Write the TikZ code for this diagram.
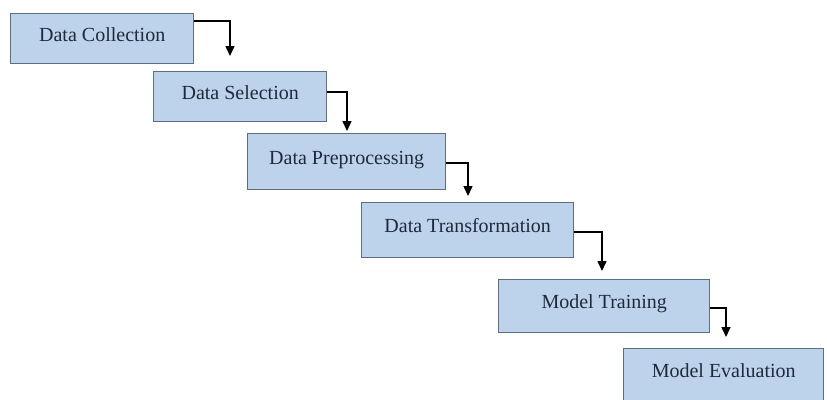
\documentclass[tikz,border=0pt]{standalone}
\usepackage{fontspec}
\setmainfont{Liberation Serif}
\usetikzlibrary{arrows.meta}
\definecolor{boxfill}{HTML}{BDD3EC}
\definecolor{boxline}{HTML}{5B6E84}
\definecolor{txt}{HTML}{1E2A3A}
\tikzset{
  stagebox/.style={draw=boxline, line width=1.4pt, fill=boxfill, anchor=north west,
    inner sep=0pt, text height=14pt, text depth=9pt, font=\fontsize{20}{24}\selectfont, text=txt},
  flowarrow/.style={draw=black, line width=1.5pt, -{Triangle[width=9pt,length=10pt]}}
}
\begin{document}
\begin{tikzpicture}[x=1pt,y=-1pt]
\useasboundingbox (0,0) rectangle (827,399);
\node[stagebox, minimum width=183pt, minimum height=50pt] (b1) at (10,13) {Data Collection};
\node[stagebox, minimum width=173pt, minimum height=50pt] (b2) at (153,71) {Data Selection};
\node[stagebox, minimum width=198pt, minimum height=56pt] (b3) at (247,133) {Data Preprocessing};
\node[stagebox, minimum width=212pt, minimum height=55pt] (b4) at (361,202) {Data Transformation};
\node[stagebox, minimum width=211pt, minimum height=53pt] (b5) at (498,279) {Model Training};
\node[stagebox, minimum width=200pt, minimum height=53pt] (b6) at (623,348) {Model Evaluation};
\coordinate (e1) at (230,56);
\coordinate (e2) at (347,131);
\coordinate (e3) at (468,196);
\coordinate (e4) at (602,271);
\coordinate (e5) at (726,337);
\draw[flowarrow] ([yshift=-8pt]b1.north east) -| (e1);
\draw[flowarrow] ([yshift=-21pt]b2.north east) -| (e2);
\draw[flowarrow] ([yshift=-30pt]b3.north east) -| (e3);
\draw[flowarrow] ([yshift=-30pt]b4.north east) -| (e4);
\draw[flowarrow] ([yshift=-29pt]b5.north east) -| (e5);
\end{tikzpicture}
\end{document}
